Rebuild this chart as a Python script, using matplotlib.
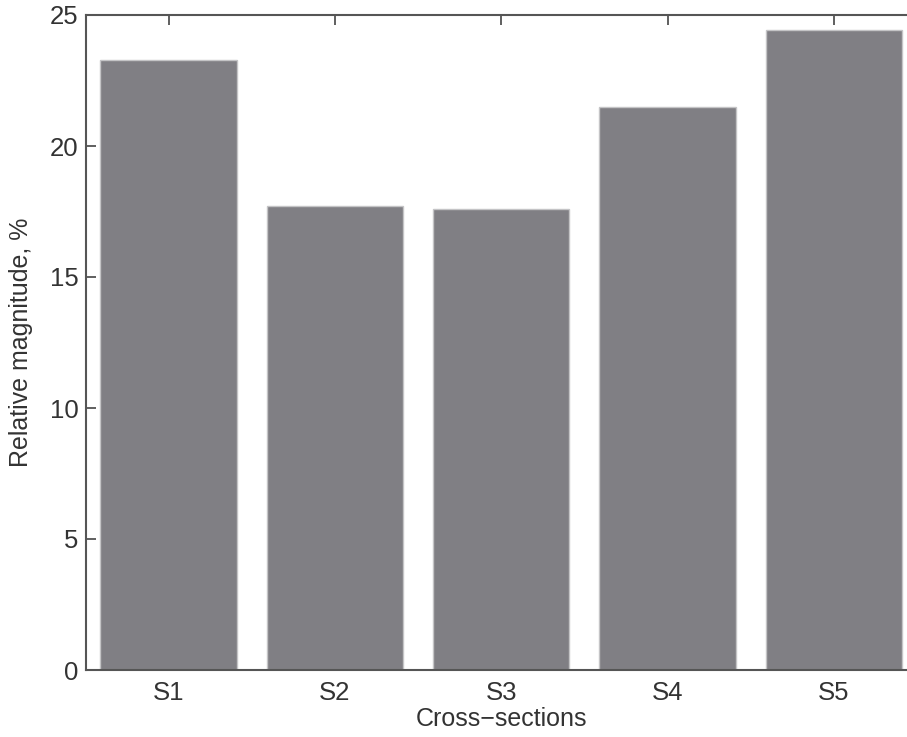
import matplotlib
matplotlib.use("Agg")
import matplotlib.pyplot as plt

# Relative magnitude per cross-section
sections = ['S1', 'S2', 'S3', 'S4', 'S5']
magnitude = [23.27, 17.72, 17.60, 21.49, 24.43]
positions = [1, 2, 3, 4, 5]

plt.rcParams['font.family'] = ['Liberation Sans', 'DejaVu Sans']

fig = plt.figure(figsize=(9.07, 7.37), dpi=100)
# axes runs past the right edge of the figure, as in the original crop
ax = fig.add_axes([85.5 / 907, 67 / 737, 831.5 / 907, 655 / 737])

ax.bar(positions, magnitude, width=0.82, color='#807f84', edgecolor='#c4c4c6', linewidth=1.0, zorder=2)

ax.set_xlim(0.5, 5.5)
ax.set_ylim(0, 25)
ax.set_xticks(positions)
ax.set_xticklabels(sections)
ax.set_yticks([0, 5, 10, 15, 20, 25])

ax.tick_params(axis='both', direction='in', length=7, width=1.2, color='#444444', labelsize=18.5, top=True, right=False)
ax.tick_params(axis='x', pad=8)
ax.tick_params(axis='y', pad=5)

for s in ax.spines.values():
    s.set_color('#555555')
    s.set_linewidth(1.5)
    s.set_zorder(3)
ax.spines['right'].set_visible(False)

ax.set_xlabel('Cross\u2212sections', fontsize=18, labelpad=1, color='#333333')
ax.set_ylabel('Relative magnitude, %', fontsize=18, labelpad=12, color='#333333')
for lbl in ax.get_xticklabels() + ax.get_yticklabels():
    lbl.set_color('#333333')

fig.savefig('out.png', dpi=100)
